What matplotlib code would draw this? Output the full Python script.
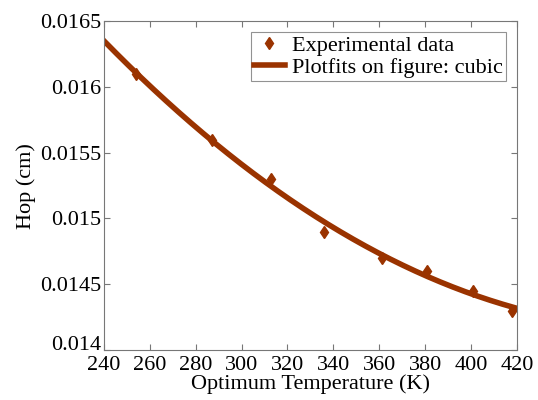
import numpy as np
import matplotlib.pyplot as plt

temp = [254, 287, 313, 336, 361, 381, 401, 418]
hop = [0.01610, 0.01560, 0.01530, 0.01490, 0.01470, 0.01460, 0.01445, 0.01430]

col = '#9a3300'
plt.rcParams['font.family'] = ['Liberation Serif']
plt.rcParams['font.size'] = 16

fig = plt.figure(figsize=(5.38, 4), dpi=100)
ax = fig.add_axes([0.193, 0.125, 0.768, 0.822])

coef = np.polyfit(temp, hop, 3)
xf = np.linspace(240, 420, 200)
ax.plot(temp, hop, 'd', color=col, markersize=6, label='Experimental data')
ax.plot(xf, np.polyval(coef, xf), '-', color=col, lw=4, label='Plotfits on figure: cubic')

ax.set_xlim(240, 420)
ax.set_ylim(0.014, 0.0165)
ax.set_xticks(range(240, 421, 20))
ax.set_yticks([0.014, 0.0145, 0.015, 0.0155, 0.016, 0.0165])
ax.set_yticklabels(['0.014', '0.0145', '0.015', '0.0155', '0.016', '0.0165'])
ax.tick_params(direction='in', top=True, right=True, length=4, color='#777777')
ax.tick_params(axis='x', pad=4)
ax.tick_params(axis='y', pad=2)
for s in ax.spines.values():
    s.set_color('#777777')
# lowest y label sits on the axis line so it clears the 240 label
ax.get_yticklabels()[0].set_verticalalignment('baseline')
ax.set_xlabel('Optimum Temperature (K)', labelpad=0)
ax.set_ylabel('Hop (cm)', labelpad=3)

leg = ax.legend(loc='upper right', fancybox=False, edgecolor='#777777', borderpad=0.15,
                handlelength=1.4, handletextpad=0.3, labelspacing=0.05, borderaxespad=0.5)
leg.get_frame().set_linewidth(0.8)

fig.savefig('out.png', dpi=100)
